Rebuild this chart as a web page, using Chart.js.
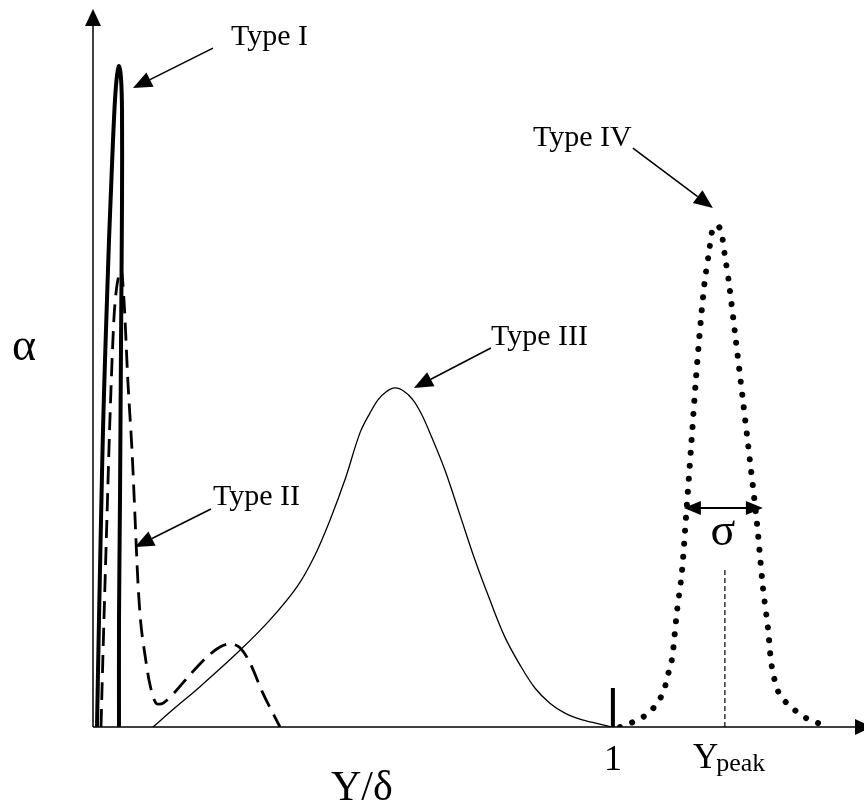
<!DOCTYPE html>
<html><head><meta charset="utf-8">
<script src="https://cdn.jsdelivr.net/npm/chart.js@4.4.1/dist/chart.umd.min.js"></script>
<style>html,body{margin:0;padding:0;background:#fff;overflow:hidden}canvas{display:block}</style>
</head><body>
<canvas id="c" width="864" height="803"></canvas>
<script>
// ---- data (x = Y/δ, y = α, arbitrary units) ----
const typeI_x = [0.0077,0.0115,0.0154,0.0192,0.0231,0.0269,0.0308,0.0346,0.0385,0.0423,0.0462,0.0500,0.0538,0.0558,0.0558,0.0538,0.0519,0.0500,0.0500];
const typeI_y = [0,0.162,0.313,0.449,0.555,0.646,0.737,0.812,0.888,0.949,0.986,1.000,0.982,0.933,0.797,0.570,0.343,0.162,0];

const typeII_x = [0.0154,0.0173,0.0212,0.0269,0.0327,0.0404,0.0462,0.0538,0.0596,0.0673,0.0750,0.0808,0.0865,0.0923,0.1000,0.1096,0.1212,0.1346,0.1577,0.1865,0.2192,0.2442,0.2635,0.2827,0.3019,0.3269,0.3596];
const typeII_y = [0,0.056,0.166,0.318,0.469,0.620,0.669,0.693,0.646,0.520,0.419,0.318,0.218,0.154,0.109,0.064,0.036,0.036,0.053,0.079,0.106,0.121,0.126,0.120,0.097,0.051,0];

const typeIII_x = [0.1154,0.1577,0.2058,0.2827,0.3404,0.3923,0.4269,0.4558,0.4846,0.5135,0.5327,0.5481,0.5635,0.5808,0.5981,0.6154,0.6308,0.6481,0.6769,0.7058,0.7346,0.7635,0.7923,0.8212,0.8500,0.8788,0.9077,0.9365,0.9712,0.9981];
const typeIII_y = [0,0.029,0.061,0.116,0.162,0.212,0.260,0.313,0.374,0.445,0.475,0.495,0.507,0.513,0.508,0.495,0.475,0.445,0.389,0.321,0.253,0.192,0.136,0.094,0.059,0.036,0.021,0.012,0.005,0];

const typeIV_x = [1.0135,1.0250,1.0481,1.0692,1.0846,1.0981,1.1038,1.1115,1.1154,1.1231,1.1327,1.1404,1.1500,1.1596,1.1692,1.1769,1.1846,1.1923,1.2000,1.2077,1.2154,1.2231,1.2365,1.2500,1.2635,1.2769,1.2885,1.2981,1.3058,1.3192,1.3346,1.3538,1.3750,1.3980];
const typeIV_y = [0,0.003,0.011,0.021,0.036,0.054,0.074,0.094,0.113,0.174,0.234,0.315,0.419,0.525,0.616,0.676,0.717,0.755,0.759,0.752,0.713,0.673,0.585,0.495,0.404,0.310,0.212,0.151,0.091,0.051,0.036,0.023,0.012,0.005];

const typeLabels = ['Type I','Type II','Type III','Type IV'];
const tickLabel = '1';
const tickValue = 1;
const yPeakValue = 1.2154;
const sigmaFrom = 1.1365, sigmaTo = 1.2885;

const X_MAX = 1.483, Y_MAX = 1.1;

function pts(xs, ys){ return xs.map((v,i)=>({x:v, y:ys[i]})); }

const serif = '"Liberation Serif","Times New Roman",serif';

// annotation anchors in data units: text [x,y], arrow from [x,y] to tip [x,y]
const annotations = [
  {text:typeLabels[0], tx:0.2654, ty:1.0318, ax:0.2308, ay:1.0272, bx:0.0769, by:0.9667},
  {text:typeLabels[1], tx:0.2308, ty:0.3359, ax:0.2269, ay:0.3298, bx:0.0808, by:0.2723},
  {text:typeLabels[2], tx:0.7654, ty:0.5779, ax:0.7654, ay:0.5734, bx:0.6173, by:0.5129},
  {text:typeLabels[3], tx:0.8462, ty:0.8790, ax:1.0385, ay:0.8759, bx:1.1923, by:0.7852}
];

function head(ctx, fx, fy, tx, ty, len, wid){
  const ang = Math.atan2(ty-fy, tx-fx);
  const bx = tx - len*Math.cos(ang), by = ty - len*Math.sin(ang);
  const nx = -Math.sin(ang)*wid/2, ny = Math.cos(ang)*wid/2;
  ctx.beginPath();
  ctx.moveTo(tx,ty); ctx.lineTo(bx+nx,by+ny); ctx.lineTo(bx-nx,by-ny); ctx.closePath(); ctx.fill();
  return [bx,by];
}
function arrow(ctx, fx, fy, tx, ty, len, wid, lw){
  const [bx,by] = head(ctx,fx,fy,tx,ty,len,wid);
  ctx.lineWidth = lw;
  ctx.beginPath(); ctx.moveTo(fx,fy); ctx.lineTo(bx,by); ctx.stroke();
}

const axesPlugin = {
  id:'axesPlugin',
  beforeDatasetsDraw(chart){
    const {ctx, scales:{x,y}} = chart;
    const ox = x.getPixelForValue(0), oy = y.getPixelForValue(0);
    ctx.save();
    ctx.fillStyle='#000'; ctx.strokeStyle='#000';
    arrow(ctx, ox, oy, ox, y.getPixelForValue(Y_MAX)+9, 17, 16, 1.5);
    arrow(ctx, ox, oy, x.getPixelForValue(X_MAX)+8, oy, 17, 16, 1.5);
    ctx.restore();
  },
  afterDatasetsDraw(chart){
    const {ctx, scales:{x,y}} = chart;
    const P = (vx,vy)=>[x.getPixelForValue(vx), y.getPixelForValue(vy)];
    const oy = y.getPixelForValue(0);
    ctx.save();
    ctx.fillStyle='#000'; ctx.strokeStyle='#000';
    // tick at 1
    const tx1 = x.getPixelForValue(tickValue);
    ctx.lineWidth = 4; ctx.lineCap='butt';
    ctx.beginPath(); ctx.moveTo(tx1, oy); ctx.lineTo(tx1, y.getPixelForValue(0.059)); ctx.stroke();
    // Y peak dashed line
    const xp = x.getPixelForValue(yPeakValue);
    ctx.lineWidth = 1.2; ctx.setLineDash([5,3]);
    ctx.beginPath(); ctx.moveTo(xp, oy); ctx.lineTo(xp, y.getPixelForValue(0.2405)); ctx.stroke();
    ctx.setLineDash([]);
    // sigma double arrow
    const [s1x, sy] = P(sigmaFrom, 0.3313), s2x = x.getPixelForValue(sigmaTo);
    head(ctx, s2x, sy, s1x, sy, 17, 14);
    head(ctx, s1x, sy, s2x, sy, 17, 14);
    ctx.lineWidth = 2;
    ctx.beginPath(); ctx.moveTo(s1x+15, sy); ctx.lineTo(s2x-15, sy); ctx.stroke();
    ctx.textBaseline='alphabetic';
    ctx.font = '46px '+serif; ctx.textAlign='center';
    ctx.fillText('σ', x.getPixelForValue(1.2115), y.getPixelForValue(0.275));
    // annotations
    ctx.font = '30px '+serif; ctx.textAlign='left';
    annotations.forEach(a=>{
      const [tx,ty] = P(a.tx,a.ty);
      ctx.fillText(a.text, tx, ty);
      const [fx,fy] = P(a.ax,a.ay), [bx,by] = P(a.bx,a.by);
      arrow(ctx, fx, fy, bx, by, 19, 16, 1.5);
    });
    // tick label 1
    ctx.font = '36px '+serif; ctx.textAlign='center';
    ctx.fillText(tickLabel, tx1, oy+43);
    // Y peak label
    ctx.textAlign='left';
    ctx.font = '35px '+serif;
    const yw = ctx.measureText('Y').width;
    const yl = xp - 32;
    ctx.fillText('Y', yl, oy+41);
    ctx.font = '26px '+serif;
    ctx.fillText('peak', yl+yw-2, oy+44);
    // axis titles
    ctx.font = '46px '+serif; ctx.textAlign='center';
    ctx.fillText('α', 24, y.getPixelForValue(0.556));
    ctx.font = '42px '+serif; ctx.textAlign='center';
    ctx.fillText('Y/δ', x.getPixelForValue(0.517), oy+73);
    ctx.restore();
  }
};

new Chart(document.getElementById('c'), {
  type:'scatter',
  data:{ datasets:[
    {label:typeLabels[0], data:pts(typeI_x,typeI_y), showLine:true, borderColor:'#000', borderWidth:4, pointRadius:0, tension:0.25, borderJoinStyle:'round', borderCapStyle:'round'},
    {label:typeLabels[1], data:pts(typeII_x,typeII_y), showLine:true, borderColor:'#000', borderWidth:2.8, borderDash:[18,9], pointRadius:0, tension:0.3},
    {label:typeLabels[2], data:pts(typeIII_x,typeIII_y), showLine:true, borderColor:'#000', borderWidth:1.3, pointRadius:0, tension:0.35},
    {label:typeLabels[3], data:pts(typeIV_x,typeIV_y), showLine:true, borderColor:'#000', borderWidth:6, borderDash:[0.01,13], borderCapStyle:'round', pointRadius:0, tension:0.3}
  ]},
  options:{
    responsive:false, devicePixelRatio:1, animation:false,
    layout:{padding:{left:93, right:0, top:0, bottom:76}},
    scales:{
      x:{type:'linear', min:0, max:X_MAX, display:false},
      y:{type:'linear', min:0, max:Y_MAX, display:false}
    },
    plugins:{legend:{display:false}, tooltip:{enabled:false}},
    elements:{line:{fill:false}}
  },
  plugins:[axesPlugin]
});
</script>
</body></html>
